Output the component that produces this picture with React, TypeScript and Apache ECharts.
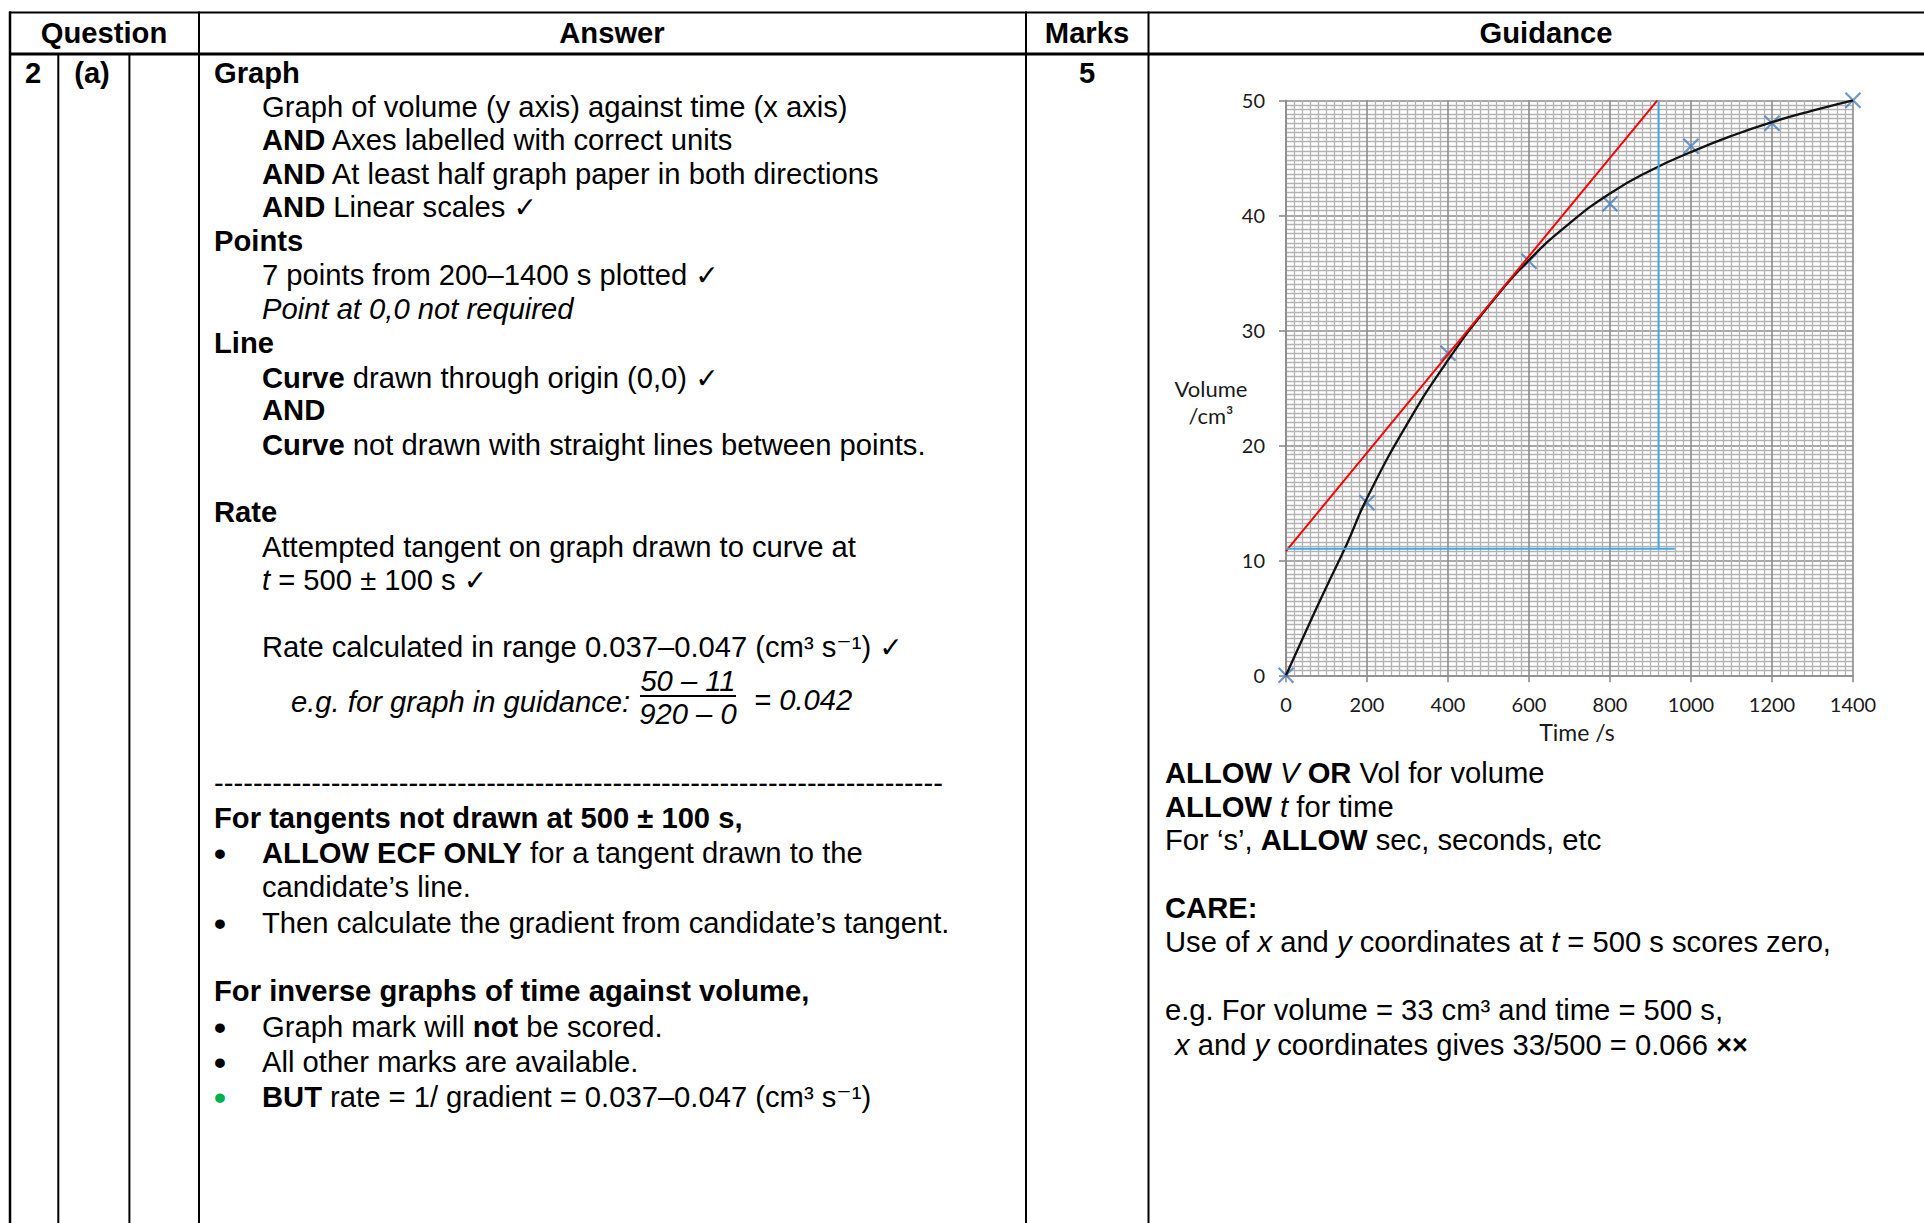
import React, { useEffect, useRef } from "react";
import * as echarts from "echarts";

// ---- chart data ----
const timeValues = [0, 200, 400, 600, 800, 1000, 1200, 1400];
const volumeValues = [0, 15, 28, 36, 41, 46, 48, 50];
const curveTimes = [0, 50, 100, 150, 200, 300, 400, 500, 600, 700, 800, 900, 1000, 1100, 1200, 1300, 1400];
const curveVolumes = [0, 3.9, 7.7, 11.4, 15.4, 21.9, 27.4, 32.1, 36.1, 39.3, 41.9, 43.9, 45.5, 46.9, 48.1, 49.1, 50];
const tangentTimes = [0, 917];
const tangentVolumes = [10.8, 50];
const runTimes = [0, 960];
const runVolumes = [11, 11];
const riseTimes = [920, 920];
const riseVolumes = [11, 50];
const yAxisTitle = "Volume\n/cm³";
const xAxisTitle = "Time /s";

// ---- table texts ----
const headerTexts = ["Question", "Answer", "Marks", "Guidance"];
const answerLines: [number, number, string, string?][] = [
  [214, 73, "Graph", "b"],
  [262, 107, "Graph of volume (y axis) against time (x axis)"],
  [262, 140, "{b|AND} Axes labelled with correct units"],
  [262, 174, "{b|AND} At least half graph paper in both directions"],
  [262, 207, "{b|AND} Linear scales {ck|✓}"],
  [214, 241, "Points", "b"],
  [262, 275, "7 points from 200–1400 s plotted {ck|✓}"],
  [262, 309, "Point at 0,0 not required", "i"],
  [214, 343, "Line", "b"],
  [262, 378, "{b|Curve} drawn through origin (0,0) {ck|✓}"],
  [262, 410, "AND", "b"],
  [262, 445, "{b|Curve} not drawn with straight lines between points."],
  [214, 512, "Rate", "b"],
  [262, 547, "Attempted tangent on graph drawn to curve at"],
  [262, 580, "{i|t} = 500 ± 100 s {ck|✓}"],
  [262, 647, "Rate calculated in range 0.037–0.047 (cm³ s⁻¹) {ck|✓}"],
  [291, 702, "e.g. for graph in guidance:", "i"],
  [754, 700, "= 0.042", "i"],
  [214, 783, "-".repeat(75)],
  [214, 818, "For tangents not drawn at 500 ± 100 s,", "b"],
  [262, 853, "{b|ALLOW ECF ONLY} for a tangent drawn to the"],
  [262, 887, "candidate’s line."],
  [262, 923, "Then calculate the gradient from candidate’s tangent."],
  [214, 991, "For inverse graphs of time against volume,", "b"],
  [262, 1027, "Graph mark will {b|not} be scored."],
  [262, 1062, "All other marks are available."],
  [262, 1097, "{b|BUT} rate = 1/ gradient = 0.037–0.047 (cm³ s⁻¹)"],
];
const bulletRows = [853, 923, 1027, 1062, 1097];
const bulletColors = ["#000", "#000", "#000", "#000", "#00B050"];
const guidanceLines: [number, number, string, string?][] = [
  [1165, 773, "{b|ALLOW} {i|V} {b|OR} Vol for volume"],
  [1165, 807, "{b|ALLOW} {i|t} for time"],
  [1165, 840, "For ‘s’, {b|ALLOW} sec, seconds, etc"],
  [1165, 908, "CARE:", "b"],
  [1165, 942, "Use of {i|x} and {i|y} coordinates at {i|t} = 500 s scores zero,"],
  [1165, 1010, "e.g. For volume = 33 cm³ and time = 500 s,"],
  [1175, 1045, "{i|x} and {i|y} coordinates gives 33/500 = 0.066 {xx|××}"],
];

const SANS = "'Liberation Sans', Arial, 'DejaVu Sans', sans-serif";
const CHART_FONT = "Lato, 'Open Sans', sans-serif";
const FS = 29.2;

const rich = {
  b: { fontSize: FS, fontFamily: SANS, fontWeight: "bold", fontStyle: "normal", fill: "#000" },
  i: { fontSize: FS, fontFamily: SANS, fontWeight: "normal", fontStyle: "italic", fill: "#000" },
  ck: { fontSize: 28, fontFamily: "'DejaVu Sans', sans-serif", fontWeight: "normal", fontStyle: "normal", fill: "#000" },
  xx: { fontSize: 27, fontFamily: SANS, fontWeight: "bold", fontStyle: "normal", fill: "#000" },
};

function txt(
  text: string,
  x: number,
  y: number,
  kind?: string,
  align = "left",
  color = "#000",
  size = FS,
  family = SANS,
  lineHeight?: number
) {
  const style: any = {
    text,
    fontSize: size,
    fontFamily: family,
    fontWeight: kind === "b" ? "bold" : "normal",
    fontStyle: kind === "i" ? "italic" : "normal",
    fill: color,
    align,
    verticalAlign: "middle",
    textAlign: align,
    textVerticalAlign: "middle",
    rich,
  };
  if (lineHeight) style.lineHeight = lineHeight;
  return { type: "text", x, y, silent: true, z: 100, style };
}

function hline(x1: number, x2: number, y: number, w = 2) {
  return { type: "line", silent: true, z: 90, shape: { x1, y1: y, x2, y2: y }, style: { stroke: "#000", lineWidth: w } };
}
function vline(x: number, y1: number, y2: number, w = 2) {
  return { type: "line", silent: true, z: 90, shape: { x1: x, y1, x2: x, y2 }, style: { stroke: "#000", lineWidth: w } };
}

function buildGraphic() {
  const els: any[] = [];
  // table rules
  els.push(hline(9, 1924, 12.5, 2));
  els.push(hline(9, 1924, 54, 3));
  els.push(vline(10, 11.5, 1223, 2.5));
  els.push(vline(58.3, 54, 1223, 2));
  els.push(vline(129.4, 54, 1223, 2));
  els.push(vline(199, 11.5, 1223, 2));
  els.push(vline(1026, 11.5, 1223, 2));
  els.push(vline(1148.5, 11.5, 1223, 2));
  // header
  const headerX = [104, 612, 1087, 1546];
  headerTexts.forEach((t, k) => els.push(txt(t, headerX[k], 33, "b", "center")));
  els.push(txt("2", 33, 73, "b", "center"));
  els.push(txt("(a)", 92, 73, "b", "center"));
  els.push(txt("5", 1087, 73, "b", "center"));
  // answer column
  answerLines.forEach(([x, y, t, k]) => els.push(txt(t, x, y, k)));
  bulletRows.forEach((y, k) => els.push(txt("•", 220, y, "b", "center", bulletColors[k], 34)));
  // fraction
  els.push(txt("50 – 11", 688, 681, "i", "center"));
  els.push({ type: "line", silent: true, z: 90, shape: { x1: 640, y1: 696, x2: 736, y2: 696 }, style: { stroke: "#000", lineWidth: 1.8 } });
  els.push(txt("920 – 0", 688, 714, "i", "center"));
  // guidance column
  guidanceLines.forEach(([x, y, t, k]) => els.push(txt(t, x, y, k)));
  // y-axis title of the graph (two lines in one text)
  els.push(txt(yAxisTitle, 1211, 402, undefined, "center", "#1a1a1a", 22, CHART_FONT, 26.5));
  return els;
}

const pairs = (xs: number[], ys: number[]) => xs.map((x, k) => [x, ys[k]]);

export default function App() {
  const ref = useRef<HTMLDivElement>(null);
  useEffect(() => {
    if (!ref.current) return;
    const chart = echarts.init(ref.current, undefined, { renderer: "svg" });
    const gridColor = "#8c8c8c";
    const minorColor = "#b3b3b3";
    chart.setOption({
      animation: false,
      backgroundColor: "#ffffff",
      grid: { left: 1286, top: 100.3, width: 567, height: 575, containLabel: false },
      xAxis: {
        type: "value",
        min: 0,
        max: 1400,
        interval: 200,
        name: xAxisTitle,
        nameLocation: "middle",
        nameGap: 57,
        nameTextStyle: {
          fontSize: 23,
          fontFamily: CHART_FONT,
          color: "#1a1a1a",
          align: "center",
          verticalAlign: "middle",
          padding: [0, 0, 0, 15],
        },
        axisLine: { show: true, onZero: false, lineStyle: { color: gridColor, width: 1.6 } },
        axisTick: { show: true, length: 7, lineStyle: { color: gridColor, width: 1.6 } },
        axisLabel: { fontSize: 20, fontFamily: CHART_FONT, color: "#1a1a1a", margin: 19, formatter: (v: number) => String(v) },
        splitLine: { show: true, lineStyle: { color: gridColor, width: 1.6 } },
        minorTick: { show: false, splitNumber: 10 },
        minorSplitLine: { show: true, lineStyle: { color: minorColor, width: 1.3 } },
      },
      yAxis: {
        type: "value",
        min: 0,
        max: 50,
        interval: 10,
        axisLine: { show: true, onZero: false, lineStyle: { color: gridColor, width: 1.6 } },
        axisTick: { show: true, length: 7, lineStyle: { color: gridColor, width: 1.6 } },
        axisLabel: { fontSize: 20, fontFamily: CHART_FONT, color: "#1a1a1a", margin: 21, formatter: (v: number) => String(v) },
        splitLine: { show: true, lineStyle: { color: gridColor, width: 1.6 } },
        minorTick: { show: false, splitNumber: 25 },
        minorSplitLine: { show: true, lineStyle: { color: minorColor, width: 1.3 } },
      },
      series: [
        {
          type: "scatter",
          data: pairs(timeValues, volumeValues),
          symbol: "path://M0,0L10,10M10,0L0,10",
          symbolSize: 15,
          itemStyle: { color: "rgba(0,0,0,0)", borderColor: "#4A7EBB", borderWidth: 2.2 },
          z: 2,
          silent: true,
        },
        {
          type: "line",
          data: pairs(curveTimes, curveVolumes),
          smooth: true,
          showSymbol: false,
          symbol: "none",
          lineStyle: { color: "#111111", width: 2.3 },
          z: 3,
          silent: true,
        },
        {
          type: "line",
          data: pairs(tangentTimes, tangentVolumes),
          showSymbol: false,
          symbol: "none",
          lineStyle: { color: "#FF0000", width: 2 },
          z: 4,
          silent: true,
        },
        {
          type: "line",
          data: pairs(runTimes, runVolumes),
          showSymbol: false,
          symbol: "none",
          lineStyle: { color: "#45A8E0", width: 2 },
          z: 4,
          silent: true,
        },
        {
          type: "line",
          data: pairs(riseTimes, riseVolumes),
          showSymbol: false,
          symbol: "none",
          lineStyle: { color: "#45A8E0", width: 2 },
          z: 4,
          silent: true,
        },
      ],
      graphic: { elements: buildGraphic() },
    });
    return () => chart.dispose();
  }, []);
  return (
    <div
      ref={ref}
      style={{ position: "fixed", left: 0, top: 0, width: 1924, height: 1223, background: "#fff" }}
    />
  );
}
